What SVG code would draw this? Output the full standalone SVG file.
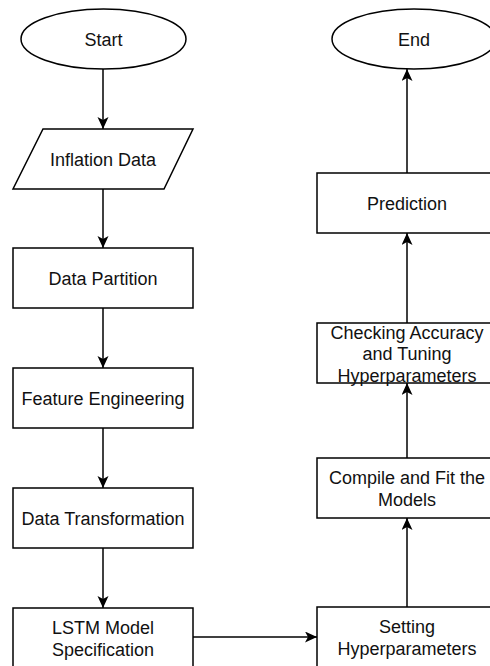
<svg xmlns="http://www.w3.org/2000/svg" width="490" height="666" viewBox="0 0 490 666">
  <style>
    .shape { fill: #ffffff; stroke: #000000; stroke-width: 1.5; }
    .edge { fill: none; stroke: #000000; stroke-width: 1.5; }
    .label { font-family: "Liberation Sans", Arial, Helvetica, sans-serif; font-size: 18px; fill: #111111; text-anchor: middle; }
  </style>
  <defs>
    <marker id="arrow" markerUnits="userSpaceOnUse" markerWidth="13" markerHeight="12" refX="12" refY="5.5" orient="auto">
      <path d="M0,0 L12,5.5 L0,11 L3,5.5 Z" fill="#000000"/>
    </marker>
  </defs>
  <rect x="0" y="0" width="490" height="666" fill="#ffffff"/>

  <!-- connectors -->
  <g id="connectors">
    <line class="edge" x1="103" y1="69" x2="103" y2="129" marker-end="url(#arrow)"/>
    <line class="edge" x1="103" y1="189" x2="103" y2="248" marker-end="url(#arrow)"/>
    <line class="edge" x1="103" y1="308" x2="103" y2="368" marker-end="url(#arrow)"/>
    <line class="edge" x1="103" y1="428" x2="103" y2="488" marker-end="url(#arrow)"/>
    <line class="edge" x1="103" y1="548" x2="103" y2="608" marker-end="url(#arrow)"/>
    <line class="edge" x1="193" y1="637" x2="317" y2="637" marker-end="url(#arrow)"/>
    <line class="edge" x1="407" y1="607" x2="407" y2="518" marker-end="url(#arrow)"/>
    <line class="edge" x1="407" y1="458" x2="407" y2="383" marker-end="url(#arrow)"/>
    <line class="edge" x1="407" y1="323" x2="407" y2="233" marker-end="url(#arrow)"/>
    <line class="edge" x1="407" y1="173" x2="407" y2="69" marker-end="url(#arrow)"/>
  </g>

  <!-- left column -->
  <g id="start">
    <ellipse class="shape" cx="103.5" cy="39" rx="82.5" ry="30"/>
    <text class="label" x="103.5" y="46">Start</text>
  </g>
  <g id="inflation-data">
    <polygon class="shape" points="43,129 193,129 164,189 13,189"/>
    <text class="label" x="103" y="166">Inflation Data</text>
  </g>
  <g id="data-partition">
    <rect class="shape" x="13" y="248" width="180" height="60"/>
    <text class="label" x="103" y="285">Data Partition</text>
  </g>
  <g id="feature-engineering">
    <rect class="shape" x="13" y="368" width="180" height="60"/>
    <text class="label" x="103" y="405">Feature Engineering</text>
  </g>
  <g id="data-transformation">
    <rect class="shape" x="13" y="488" width="180" height="60"/>
    <text class="label" x="103" y="525">Data Transformation</text>
  </g>
  <g id="lstm-model-specification">
    <rect class="shape" x="13" y="608" width="180" height="60"/>
    <text class="label" x="103" y="634">LSTM Model</text>
    <text class="label" x="103" y="655.6">Specification</text>
  </g>

  <!-- right column -->
  <g id="setting-hyperparameters">
    <rect class="shape" x="317" y="607" width="180" height="60"/>
    <text class="label" x="407" y="633">Setting</text>
    <text class="label" x="407" y="654.6">Hyperparameters</text>
  </g>
  <g id="compile-and-fit">
    <rect class="shape" x="317" y="458" width="180" height="60"/>
    <text class="label" x="407" y="484">Compile and Fit the</text>
    <text class="label" x="407" y="505.6">Models</text>
  </g>
  <g id="checking-accuracy">
    <rect class="shape" x="317" y="323" width="180" height="60"/>
    <text class="label" x="407" y="338.5">Checking Accuracy</text>
    <text class="label" x="407" y="360">and Tuning</text>
    <text class="label" x="407" y="381.6">Hyperparameters</text>
  </g>
  <g id="prediction">
    <rect class="shape" x="317" y="173" width="180" height="60"/>
    <text class="label" x="407" y="210">Prediction</text>
  </g>
  <g id="end">
    <ellipse class="shape" cx="414" cy="39" rx="82" ry="30"/>
    <text class="label" x="414" y="46">End</text>
  </g>
</svg>
